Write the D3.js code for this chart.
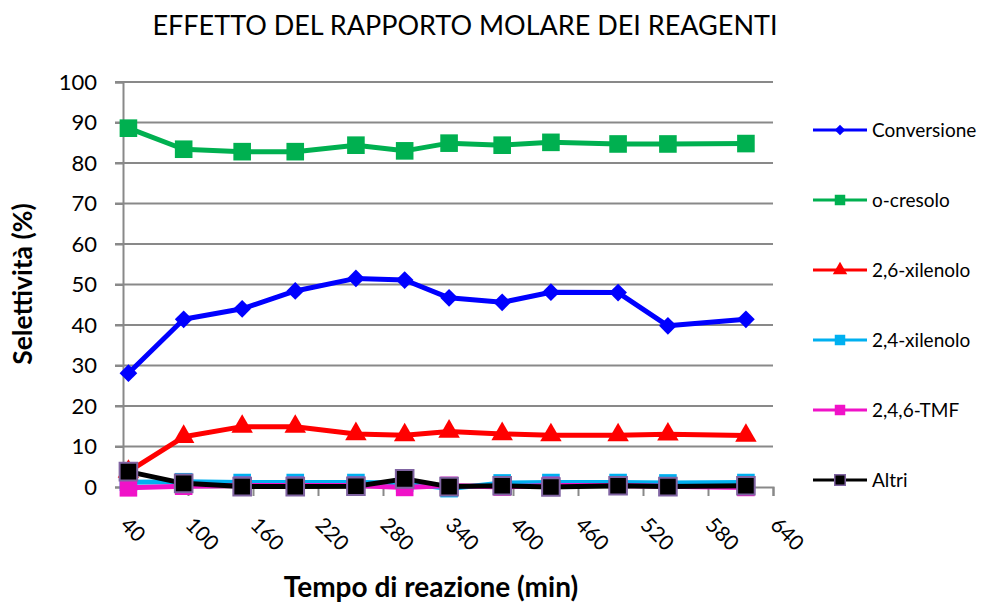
<!DOCTYPE html>
<meta charset="utf-8">
<style>
  body { margin: 0; background: #fff; }
  text { font-family: Lato, "Open Sans", sans-serif; fill: #000; }
</style>
<div class="chart"></div>
<script src="https://cdn.jsdelivr.net/npm/d3@7"></script>
<script>
// data
var tempo = [45, 96, 150, 199, 255, 300, 341, 390, 435, 497, 543, 615];
var conversione = [28.1, 41.4, 44.0, 48.4, 51.5, 51.1, 46.7, 45.6, 48.1, 48.0, 39.8, 41.4];
var oCresolo = [88.6, 83.4, 82.8, 82.8, 84.4, 83.0, 84.9, 84.4, 85.1, 84.7, 84.7, 84.8];
var xilenolo26 = [3.8, 12.4, 14.9, 14.9, 13.1, 12.8, 13.7, 13.1, 12.8, 12.8, 13.0, 12.7];
var xilenolo24 = [1.2, 1.3, 1.1, 1.1, 1.1, 1.0, -0.4, 1.0, 1.1, 1.1, 1.0, 1.1];
var tmf = [-0.2, 0.2, 0.4, 0.4, 0.4, -0.1, 0.4, 0.0, 0.4, 0.4, 0.2, -0.1];
var altri = [3.8, 0.9, 0.1, 0.1, 0.2, 2.0, 0.1, 0.3, 0.0, 0.3, 0.1, 0.3];
var xTicks = [40, 100, 160, 220, 280, 340, 400, 460, 520, 580, 640];
var yTicks = [0, 10, 20, 30, 40, 50, 60, 70, 80, 90, 100];

var series = [
  {name: "Conversione", values: conversione, color: "#0000ff", marker: "diamond"},
  {name: "o-cresolo", values: oCresolo, color: "#00b050", marker: "square"},
  {name: "2,6-xilenolo", values: xilenolo26, color: "#ff0000", marker: "triangle"},
  {name: "2,4-xilenolo", values: xilenolo24, color: "#00b0f0", marker: "square"},
  {name: "2,4,6-TMF", values: tmf, color: "#f012c8", marker: "square"},
  {name: "Altri", values: altri, color: "#000000", marker: "square", stroke: "#8064a2"}
];

var W = 985, H = 605;
var x = d3.scaleLinear().domain([40, 640]).range([123, 773]);
var y = d3.scaleLinear().domain([0, 100]).range([487, 82]);

var svg = d3.select(".chart").append("svg").attr("width", W).attr("height", H);

// gridlines
svg.append("g").selectAll("line").data(yTicks.filter(function(d){ return d > 0; }))
  .enter().append("line")
  .attr("x1", 115).attr("x2", 773)
  .attr("y1", function(d){ return y(d); }).attr("y2", function(d){ return y(d); })
  .attr("stroke", "#898989").attr("stroke-width", 2);

// y axis
var yAxis = d3.axisLeft(y).tickValues(yTicks).tickSize(8).tickPadding(18);
var gy = svg.append("g").attr("transform", "translate(123,0)").call(yAxis);
gy.select(".domain").attr("stroke", "#898989").attr("stroke-width", 2);
gy.selectAll(".tick line").attr("stroke", "#898989").attr("stroke-width", 2);
gy.selectAll("text").attr("font-size", 22).attr("font-family", "Lato").attr("fill", "#000");

// x axis
var xAxis = d3.axisBottom(x).tickValues(xTicks).tickSize(9).tickFormat(d3.format("d"));
var gx = svg.append("g").attr("transform", "translate(0,487)").call(xAxis);
gx.select(".domain").attr("stroke", "#898989").attr("stroke-width", 2);
gx.selectAll(".tick line").attr("stroke", "#898989").attr("stroke-width", 2);
gx.selectAll("text")
  .attr("font-size", 21).attr("font-family", "Lato").attr("fill", "#000")
  .attr("text-anchor", "start")
  .attr("x", 0).attr("y", 0).attr("dy", "0.35em")
  .attr("transform", "translate(1,34) rotate(45)");

// marker paths
var sym = {
  diamond: d3.symbol().type(d3.symbolDiamond2).size(200),
  square: d3.symbol().type(d3.symbolSquare).size(310),
  triangle: d3.symbol().type(d3.symbolTriangle).size(200)
};
var symLeg = {
  diamond: d3.symbol().type(d3.symbolDiamond2).size(70),
  square: d3.symbol().type(d3.symbolSquare).size(110),
  triangle: d3.symbol().type(d3.symbolTriangle).size(90)
};

var line = d3.line()
  .x(function(d, i){ return x(tempo[i]); })
  .y(function(d){ return y(d); });

series.forEach(function(s){
  var g = svg.append("g");
  g.append("path").attr("d", line(s.values))
    .attr("fill", "none").attr("stroke", s.color).attr("stroke-width", 5)
    .attr("stroke-linejoin", "round");
  g.selectAll("path.m").data(s.values).enter().append("path")
    .attr("class", "m")
    .attr("d", sym[s.marker]())
    .attr("transform", function(d, i){ return "translate(" + x(tempo[i]) + "," + y(d) + ")"; })
    .attr("fill", s.color)
    .attr("stroke", s.stroke || "none").attr("stroke-width", 2);
});

// legend
var leg = svg.append("g").selectAll("g").data(series).enter().append("g")
  .attr("transform", function(d, i){ return "translate(813," + (130 + i * 70) + ")"; });
leg.append("line").attr("x1", 0).attr("x2", 54)
  .attr("stroke", function(d){ return d.color; }).attr("stroke-width", 3);
leg.append("path").attr("d", function(d){ return symLeg[d.marker](); })
  .attr("transform", "translate(27,0)")
  .attr("fill", function(d){ return d.color; })
  .attr("stroke", function(d){ return d.stroke || "none"; }).attr("stroke-width", 1.5);
leg.append("text").attr("x", 59).attr("dy", "0.35em")
  .attr("font-size", 19).text(function(d){ return d.name; });

// titles
svg.append("text").attr("x", 465).attr("y", 35).attr("text-anchor", "middle")
  .attr("font-size", 27).text("EFFETTO DEL RAPPORTO MOLARE DEI REAGENTI");
svg.append("text").attr("transform", "translate(32,284) rotate(-90)")
  .attr("text-anchor", "middle").attr("font-size", 26.5).attr("font-weight", "bold")
  .text("Selettività (%)");
svg.append("text").attr("x", 431).attr("y", 597).attr("text-anchor", "middle")
  .attr("font-size", 28).attr("font-weight", "bold")
  .text("Tempo di reazione (min)");
</script>
